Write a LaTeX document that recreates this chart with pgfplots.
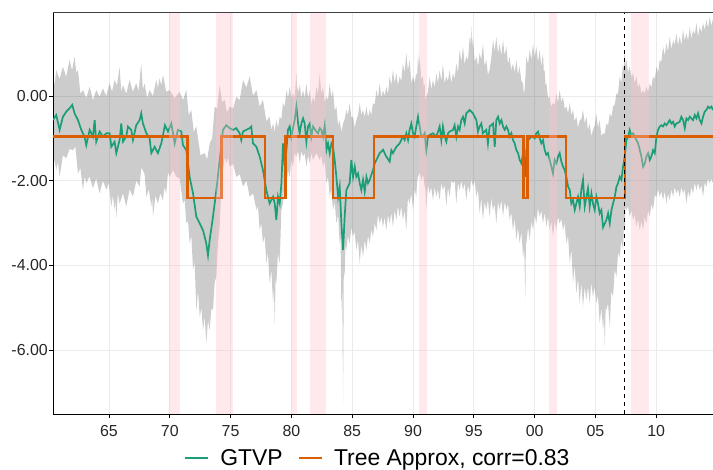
\documentclass[border=0pt]{standalone}
\usepackage{pgfplots}
\pgfplotsset{compat=1.18}
\usepgfplotslibrary{fillbetween}
\usepackage{pgfplotstable}
\usepackage{fontspec}
\setmainfont{Liberation Sans}

\definecolor{gtvp}{HTML}{1B9E77}
\definecolor{tree}{HTML}{D95F02}
\definecolor{recess}{HTML}{FFC0CB}

% GTVP estimate
\pgfplotstableread{
x y
1960.39 -0.57
1960.66 -0.45
1960.94 -0.80
1961.21 -0.49
1961.49 -0.37
1961.76 -0.29
1961.98 -0.21
1962.17 -0.41
1962.45 -0.57
1962.72 -0.80
1962.99 -0.96
1963.13 -1.16
1963.41 -0.80
1963.68 -0.96
1963.82 -0.57
1963.95 -1.08
1964.23 -0.84
1964.50 -0.96
1964.78 -0.88
1965.05 -0.88
1965.19 -1.20
1965.46 -1.08
1965.60 -1.35
1965.87 -1.04
1966.01 -0.65
1966.15 -1.08
1966.42 -0.96
1966.56 -0.72
1966.83 -0.80
1966.97 -1.04
1967.24 -0.69
1967.52 -0.57
1967.65 -0.41
1967.79 -0.65
1968.07 -0.88
1968.34 -1.00
1968.48 -1.35
1968.75 -1.20
1969.02 -1.35
1969.30 -1.12
1969.60 -0.69
1969.85 -0.84
1970.13 -0.65
1970.40 -1.12
1970.67 -0.80
1970.95 -0.84
1971.08 -1.16
1971.36 -1.28
1971.63 -1.91
1971.91 -2.30
1972.18 -2.85
1972.46 -3.01
1972.73 -3.17
1973.00 -3.48
1973.14 -3.76
1973.28 -3.40
1973.55 -2.85
1973.83 -2.22
1974.10 -1.51
1974.37 -0.80
1974.65 -0.69
1974.92 -0.76
1975.20 -0.80
1975.47 -0.76
1975.74 -0.88
1975.88 -1.04
1976.02 -0.84
1976.29 -0.80
1976.57 -0.76
1976.70 -0.72
1976.84 -1.12
1977.12 -1.20
1977.39 -1.43
1977.66 -1.75
1977.94 -2.22
1978.21 -2.54
1978.49 -2.38
1978.63 -2.54
1978.76 -2.93
1978.90 -2.38
1979.04 -2.54
1979.18 -2.06
1979.31 -1.12
1979.45 -1.67
1979.59 -1.28
1979.72 -0.80
1979.86 -0.72
1980.00 -0.96
1980.13 -0.76
1980.27 -0.57
1980.41 -0.25
1980.55 -0.65
1980.68 -0.88
1980.82 -0.65
1980.96 -0.53
1981.09 -0.65
1981.23 -1.08
1981.37 -0.72
1981.51 -0.65
1981.64 -0.96
1981.78 -0.72
1982.05 -0.84
1982.19 -0.88
1982.33 -0.76
1982.46 -0.80
1982.60 -0.96
1982.74 -0.69
1982.88 -1.28
1983.01 -1.12
1983.15 -1.35
1983.29 -1.12
1983.42 -1.20
1983.56 -1.51
1983.70 -1.91
1983.84 -2.38
1983.97 -2.14
1984.11 -3.01
1984.25 -3.64
1984.38 -2.85
1984.52 -2.22
1984.79 -2.06
1984.93 -1.51
1985.07 -1.91
1985.21 -1.67
1985.34 -1.91
1985.48 -1.83
1985.62 -2.06
1985.75 -2.22
1985.89 -1.98
1986.03 -2.26
1986.17 -1.91
1986.30 -2.06
1986.44 -1.98
1986.71 -1.75
1986.85 -1.59
1986.99 -1.51
1987.26 -1.35
1987.54 -1.27
1987.80 -1.43
1988.08 -1.55
1988.22 -1.28
1988.35 -1.35
1988.63 -1.20
1988.90 -1.12
1989.17 -0.96
1989.31 -1.04
1989.45 -0.88
1989.59 -1.04
1989.72 -0.80
1989.86 -0.65
1990.00 -0.88
1990.13 -0.96
1990.27 -0.72
1990.41 -0.49
1990.55 -0.72
1990.68 -0.96
1990.82 -0.96
1990.96 -0.88
1991.09 -1.28
1991.23 -0.96
1991.37 -0.92
1991.64 -0.88
1991.92 -0.96
1992.19 -0.72
1992.33 -1.04
1992.46 -0.72
1992.60 -0.96
1992.74 -1.08
1992.88 -0.88
1993.01 -0.84
1993.29 -0.80
1993.42 -0.69
1993.56 -0.96
1993.70 -0.72
1993.83 -0.80
1993.97 -0.57
1994.11 -0.49
1994.25 -0.65
1994.38 -0.41
1994.52 -0.37
1994.66 -0.33
1994.79 -0.37
1994.93 -0.41
1995.07 -0.49
1995.21 -0.57
1995.34 -0.84
1995.48 -0.72
1995.62 -0.65
1995.75 -0.88
1996.03 -0.80
1996.16 -1.12
1996.30 -0.72
1996.58 -0.65
1996.72 -1.20
1996.85 -0.57
1996.99 -0.49
1997.13 -0.65
1997.27 -0.57
1997.40 -0.72
1997.54 -0.80
1997.68 -0.72
1997.81 -0.80
1997.95 -0.96
1998.09 -0.88
1998.22 -1.04
1998.36 -1.12
1998.50 -1.28
1998.64 -1.35
1998.77 -1.51
1998.91 -1.59
1999.05 -1.35
1999.18 -1.67
1999.24 -1.91
1999.32 -1.28
1999.46 -1.04
1999.60 -1.00
1999.73 -0.96
1999.87 -0.96
2000.01 -1.00
2000.14 -0.88
2000.28 -0.84
2000.42 -1.00
2000.55 -1.12
2000.69 -1.04
2000.83 -1.28
2000.97 -1.39
2001.10 -1.35
2001.24 -1.51
2001.38 -1.67
2001.51 -1.83
2001.65 -1.51
2001.79 -1.59
2001.93 -1.43
2002.06 -1.35
2002.20 -1.55
2002.34 -1.67
2002.47 -1.75
2002.61 -1.91
2002.75 -2.14
2002.89 -2.22
2003.02 -2.54
2003.16 -2.46
2003.30 -2.69
2003.43 -2.54
2003.57 -2.38
2003.71 -2.61
2003.84 -2.22
2003.98 -1.98
2004.12 -2.61
2004.26 -2.38
2004.39 -2.18
2004.53 -2.61
2004.67 -2.30
2004.80 -2.54
2004.94 -2.69
2005.08 -2.38
2005.21 -2.54
2005.35 -2.77
2005.49 -2.69
2005.63 -3.10
2005.77 -3.01
2005.90 -2.93
2006.04 -2.77
2006.18 -3.01
2006.32 -2.69
2006.45 -2.54
2006.59 -2.38
2006.73 -2.14
2006.86 -2.06
2007.00 -1.91
2007.14 -1.98
2007.27 -1.67
2007.41 -1.43
2007.55 -1.04
2007.69 -0.96
2007.82 -0.80
2007.96 -0.92
2008.10 -0.88
2008.23 -0.96
2008.37 -1.04
2008.51 -1.12
2008.65 -1.28
2008.78 -1.43
2008.92 -1.67
2009.06 -1.59
2009.19 -1.43
2009.33 -1.35
2009.47 -1.51
2009.60 -1.43
2009.74 -1.28
2009.88 -1.35
2010.02 -0.96
2010.15 -0.80
2010.29 -0.72
2010.43 -0.69
2010.56 -0.72
2010.70 -0.65
2010.84 -0.69
2011.11 -0.57
2011.25 -0.65
2011.39 -0.61
2011.52 -0.72
2011.66 -0.65
2011.93 -0.61
2012.07 -0.49
2012.21 -0.57
2012.35 -0.76
2012.48 -0.53
2012.62 -0.57
2012.76 -0.49
2012.89 -0.53
2013.03 -0.57
2013.17 -0.45
2013.31 -0.53
2013.44 -0.41
2013.58 -0.57
2013.72 -0.65
2013.85 -0.49
2013.99 -0.37
2014.13 -0.33
2014.26 -0.25
2014.40 -0.29
2014.54 -0.25
2014.67 -0.33
}\gtvptab

% upper edge of the grey band
\pgfplotstableread{
x y
1960.39 0.46
1960.52 0.25
1960.66 0.61
1960.93 0.40
1961.21 0.69
1961.48 0.45
1961.76 0.85
1961.96 0.60
1962.17 0.93
1962.31 0.55
1962.45 0.61
1962.65 0.05
1962.86 0.14
1963.13 -0.05
1963.41 0.22
1963.68 -0.10
1963.95 0.14
1964.22 -0.02
1964.50 0.18
1964.77 0.00
1965.05 0.30
1965.25 0.10
1965.46 0.38
1965.66 0.25
1965.87 0.69
1966.01 0.10
1966.15 0.26
1966.42 0.05
1966.69 0.38
1966.96 0.10
1967.24 0.30
1967.44 0.12
1967.65 0.77
1967.79 0.15
1967.93 0.30
1968.13 -0.05
1968.34 0.14
1968.61 0.00
1968.89 0.38
1969.02 0.20
1969.16 0.42
1969.30 0.25
1969.44 0.50
1969.71 0.10
1969.99 0.14
1970.40 -0.05
1970.81 0.10
1971.08 -0.10
1971.36 0.14
1971.56 -0.45
1971.77 -0.33
1971.97 -0.85
1972.18 -0.72
1972.52 -1.40
1972.87 -1.35
1973.07 -1.50
1973.28 -1.12
1973.48 -1.00
1973.69 -0.25
1973.89 -0.30
1974.10 0.26
1974.30 -0.15
1974.51 -0.09
1974.71 -0.40
1974.92 -0.25
1975.20 -0.30
1975.47 -0.02
1975.75 -0.10
1976.02 0.38
1976.30 0.20
1976.57 0.46
1976.85 0.00
1977.12 0.14
1977.39 -0.25
1977.66 -0.09
1977.94 -0.60
1978.21 -0.49
1978.35 -0.80
1978.49 -0.65
1978.62 -0.85
1978.76 -0.57
1978.90 -0.75
1979.04 -0.49
1979.17 -0.55
1979.31 -0.17
1979.45 -0.25
1979.59 0.14
1979.72 -0.05
1979.86 0.22
1980.00 -0.05
1980.13 0.06
1980.27 -0.05
1980.41 0.54
1980.48 0.10
1980.55 0.22
1980.61 0.05
1980.68 0.30
1980.82 -0.05
1980.96 0.14
1981.09 -0.05
1981.23 0.30
1981.37 -0.05
1981.51 0.14
1981.64 -0.20
1981.78 -0.02
1981.91 -0.15
1982.05 0.22
1982.19 0.05
1982.33 0.54
1982.46 0.05
1982.60 0.22
1982.74 -0.15
1982.88 -0.02
1983.01 -0.10
1983.15 0.30
1983.28 -0.05
1983.42 0.14
1983.56 -0.35
1983.70 -0.25
1983.84 -0.70
1983.97 -0.57
1984.11 -0.85
1984.25 -0.65
1984.38 -0.55
1984.52 -0.33
1984.65 -0.45
1984.79 -0.17
1984.93 -0.50
1985.07 -0.49
1985.20 -0.75
1985.34 -0.57
1985.48 -0.45
1985.62 -0.17
1985.75 -0.45
1985.89 -0.33
1986.03 -0.50
1986.17 -0.25
1986.30 -0.50
1986.44 -0.33
1986.57 -0.45
1986.71 -0.17
1986.85 -0.20
1986.99 0.14
1987.12 -0.05
1987.26 0.30
1987.40 -0.05
1987.53 0.14
1987.66 0.00
1987.80 0.22
1987.94 0.05
1988.08 0.46
1988.21 0.25
1988.35 0.61
1988.49 0.30
1988.63 0.54
1988.76 0.25
1988.90 0.46
1989.03 0.35
1989.17 0.77
1989.31 0.55
1989.45 1.01
1989.58 0.60
1989.72 0.85
1989.86 0.30
1990.00 0.46
1990.13 0.30
1990.27 0.54
1990.34 0.45
1990.41 1.01
1990.48 0.70
1990.55 0.93
1990.68 0.40
1990.82 0.46
1990.89 0.20
1990.96 0.30
1991.02 -0.10
1991.09 -0.02
1991.23 0.10
1991.37 0.46
1991.50 0.15
1991.64 0.38
1991.78 0.20
1991.92 0.54
1992.05 0.30
1992.19 0.61
1992.33 0.35
1992.46 0.77
1992.60 0.30
1992.74 0.46
1992.87 0.35
1993.01 0.61
1993.15 0.30
1993.29 0.54
1993.42 0.40
1993.56 0.77
1993.70 0.55
1993.83 1.09
1993.97 0.80
1994.11 1.17
1994.24 0.75
1994.38 0.93
1994.52 0.85
1994.66 1.40
1994.72 1.20
1994.79 1.64
1994.86 1.15
1994.93 1.40
1995.07 0.80
1995.21 0.93
1995.34 0.70
1995.48 1.01
1995.61 0.85
1995.75 1.24
1995.89 0.70
1996.03 0.85
1996.16 0.50
1996.30 0.61
1996.44 0.90
1996.58 1.32
1996.71 1.05
1996.85 1.40
1996.99 1.00
1997.13 1.24
1997.26 0.95
1997.40 1.32
1997.54 0.95
1997.68 1.17
1997.81 0.75
1997.95 0.93
1998.08 0.60
1998.22 0.77
1998.36 0.55
1998.50 0.85
1998.63 0.50
1998.77 0.69
1998.91 0.35
1999.05 0.30
1999.11 0.05
1999.18 0.14
1999.25 0.50
1999.32 0.93
1999.46 0.75
1999.60 1.09
1999.73 0.85
1999.87 1.24
2000.00 0.90
2000.14 1.17
2000.28 0.80
2000.42 1.09
2000.55 0.70
2000.69 1.01
2000.76 0.55
2000.83 0.61
2000.90 0.25
2000.97 0.30
2001.10 -0.05
2001.24 -0.02
2001.37 -0.25
2001.51 -0.17
2001.65 -0.20
2001.79 0.06
2001.92 -0.15
2002.06 0.14
2002.20 -0.15
2002.34 -0.02
2002.47 -0.30
2002.61 -0.25
2002.75 -0.40
2002.89 -0.17
2003.02 -0.45
2003.16 -0.33
2003.29 -0.60
2003.43 -0.49
2003.57 -0.75
2003.71 -0.57
2003.84 -0.55
2003.98 -0.33
2004.12 -0.65
2004.26 -0.49
2004.39 -0.80
2004.53 -0.65
2004.66 -0.95
2004.80 -0.80
2004.94 -0.70
2005.08 -0.41
2005.21 -0.75
2005.35 -0.57
2005.49 -0.95
2005.63 -0.88
2005.76 -0.90
2005.90 -0.65
2006.04 -0.70
2006.18 -0.41
2006.31 -0.50
2006.45 -0.25
2006.59 -0.20
2006.73 0.06
2006.86 0.05
2007.00 0.46
2007.13 0.30
2007.27 0.77
2007.34 0.60
2007.41 1.09
2007.48 0.70
2007.55 0.85
2007.68 0.55
2007.82 0.69
2007.96 0.45
2008.10 0.54
2008.23 0.30
2008.37 0.46
2008.51 0.20
2008.65 0.30
2008.78 0.05
2008.92 0.14
2009.05 0.05
2009.19 0.22
2009.33 0.10
2009.47 0.30
2009.60 0.20
2009.74 0.46
2009.88 0.40
2010.02 0.69
2010.15 0.55
2010.29 0.85
2010.42 0.80
2010.56 1.17
2010.70 0.95
2010.84 1.24
2010.97 1.05
2011.11 1.40
2011.25 1.10
2011.39 1.32
2011.52 1.20
2011.66 1.48
2011.79 1.20
2011.93 1.40
2012.07 1.20
2012.21 1.56
2012.34 1.30
2012.48 1.48
2012.62 1.30
2012.76 1.64
2012.89 1.35
2013.03 1.56
2013.17 1.45
2013.31 1.72
2013.44 1.40
2013.58 1.64
2013.71 1.50
2013.85 1.72
2013.99 1.55
2014.13 1.80
2014.26 1.60
2014.40 1.87
2014.53 1.65
2014.67 1.83
}\uptab

% lower edge of the grey band
\pgfplotstableread{
x y
1960.39 -1.67
1960.52 -1.50
1960.66 -1.75
1960.80 -1.55
1960.94 -1.91
1961.21 -1.40
1961.49 -1.47
1961.76 -1.25
1962.03 -1.28
1962.24 -1.20
1962.45 -1.83
1962.65 -1.70
1962.86 -2.22
1963.00 -1.90
1963.13 -2.06
1963.40 -1.90
1963.68 -2.18
1963.95 -1.95
1964.23 -2.30
1964.50 -2.00
1964.78 -2.22
1964.98 -2.05
1965.19 -2.61
1965.32 -2.35
1965.46 -2.69
1965.53 -2.45
1965.60 -2.89
1965.73 -2.30
1965.87 -2.54
1966.15 -2.30
1966.42 -2.61
1966.70 -2.20
1966.97 -2.38
1967.24 -2.00
1967.52 -2.14
1967.65 -1.70
1967.79 -1.75
1967.93 -1.85
1968.07 -2.38
1968.27 -2.20
1968.48 -2.61
1968.55 -2.40
1968.62 -2.85
1968.82 -2.35
1969.02 -2.54
1969.22 -2.30
1969.43 -2.46
1969.57 -2.15
1969.71 -2.30
1969.85 -1.80
1969.99 -1.91
1970.27 -1.75
1970.54 -1.91
1970.81 -1.95
1971.08 -2.54
1971.22 -2.45
1971.36 -3.01
1971.50 -2.95
1971.63 -3.48
1971.77 -3.30
1971.91 -4.11
1972.04 -3.90
1972.18 -5.06
1972.32 -4.60
1972.46 -5.21
1972.60 -5.00
1972.73 -5.53
1972.87 -5.20
1973.00 -5.84
1973.14 -5.30
1973.28 -5.53
1973.42 -5.00
1973.55 -5.06
1973.69 -4.40
1973.83 -4.27
1973.96 -3.50
1974.10 -3.09
1974.23 -2.20
1974.37 -1.75
1974.51 -1.45
1974.65 -1.59
1974.78 -1.45
1974.92 -1.67
1975.20 -1.60
1975.47 -1.91
1975.75 -1.85
1976.02 -2.14
1976.30 -2.00
1976.57 -2.38
1976.85 -2.30
1977.12 -2.69
1977.25 -2.60
1977.39 -3.17
1977.52 -3.00
1977.66 -3.48
1977.80 -3.30
1977.94 -3.95
1978.07 -3.70
1978.21 -4.43
1978.35 -4.10
1978.49 -4.90
1978.56 -4.50
1978.63 -5.37
1978.70 -4.30
1978.76 -4.43
1978.90 -3.70
1979.04 -3.95
1979.17 -2.70
1979.31 -2.54
1979.45 -1.90
1979.59 -2.06
1979.72 -1.75
1979.86 -1.91
1980.00 -1.50
1980.13 -1.67
1980.27 -1.35
1980.41 -1.43
1980.55 -1.30
1980.68 -1.59
1980.82 -1.30
1980.96 -1.43
1981.09 -1.35
1981.23 -1.67
1981.37 -1.40
1981.51 -1.59
1981.64 -1.35
1981.78 -1.51
1982.05 -1.35
1982.33 -1.51
1982.46 -1.40
1982.60 -1.67
1982.74 -1.55
1982.88 -2.06
1983.01 -1.90
1983.15 -2.38
1983.28 -2.20
1983.42 -2.69
1983.56 -2.50
1983.70 -3.01
1983.84 -2.80
1983.97 -3.48
1984.04 -3.30
1984.11 -5.06
1984.18 -4.50
1984.25 -7.26
1984.31 -4.00
1984.38 -4.27
1984.45 -3.50
1984.52 -3.64
1984.65 -3.30
1984.79 -3.48
1984.93 -3.10
1985.07 -3.32
1985.20 -3.20
1985.34 -3.64
1985.48 -3.40
1985.62 -3.95
1985.75 -3.50
1985.89 -3.80
1986.03 -3.40
1986.17 -3.64
1986.30 -3.30
1986.44 -3.48
1986.57 -3.15
1986.71 -3.32
1986.85 -3.00
1986.99 -3.17
1987.12 -2.80
1987.26 -3.01
1987.40 -2.85
1987.53 -3.10
1987.66 -2.85
1987.80 -3.17
1987.94 -2.80
1988.08 -3.01
1988.21 -2.75
1988.35 -3.09
1988.49 -2.70
1988.63 -2.93
1988.76 -2.60
1988.90 -2.85
1989.03 -2.60
1989.17 -2.93
1989.31 -2.70
1989.45 -3.17
1989.58 -2.40
1989.72 -2.54
1989.86 -2.30
1990.00 -2.69
1990.13 -2.20
1990.27 -2.38
1990.34 -2.00
1990.41 -1.91
1990.55 -1.80
1990.68 -1.98
1990.82 -1.85
1990.96 -2.14
1991.02 -2.20
1991.09 -2.69
1991.23 -2.10
1991.37 -2.30
1991.50 -2.15
1991.64 -2.46
1991.78 -2.15
1991.92 -2.38
1992.05 -2.20
1992.19 -2.46
1992.33 -2.05
1992.46 -2.22
1992.60 -2.10
1992.74 -2.61
1992.87 -2.15
1993.01 -2.38
1993.15 -2.00
1993.29 -2.06
1993.42 -2.00
1993.56 -2.54
1993.70 -2.05
1993.83 -2.22
1993.97 -2.00
1994.11 -2.22
1994.24 -2.05
1994.38 -2.46
1994.52 -2.10
1994.66 -2.30
1994.79 -1.95
1994.93 -2.14
1995.07 -2.00
1995.21 -2.38
1995.34 -2.20
1995.48 -2.77
1995.61 -2.40
1995.75 -2.93
1995.89 -2.50
1996.03 -2.69
1996.16 -2.45
1996.30 -2.85
1996.44 -2.40
1996.58 -2.70
1996.71 -2.55
1996.85 -3.01
1996.99 -2.50
1997.13 -2.69
1997.26 -2.45
1997.40 -2.85
1997.54 -2.50
1997.68 -2.69
1997.81 -2.55
1997.95 -2.93
1998.08 -2.75
1998.22 -3.17
1998.36 -2.90
1998.50 -3.40
1998.63 -3.10
1998.77 -3.48
1998.91 -3.20
1999.05 -3.80
1999.15 -3.60
1999.24 -4.82
1999.28 -3.50
1999.32 -3.48
1999.46 -3.10
1999.60 -3.40
1999.73 -2.95
1999.87 -3.17
2000.00 -2.80
2000.14 -3.01
2000.28 -2.65
2000.42 -2.85
2000.55 -2.70
2000.69 -3.01
2000.83 -2.75
2000.97 -3.09
2001.10 -2.85
2001.24 -3.17
2001.37 -2.95
2001.51 -3.32
2001.65 -2.95
2001.79 -3.17
2001.92 -2.85
2002.06 -3.01
2002.20 -2.90
2002.34 -3.17
2002.47 -3.00
2002.61 -3.48
2002.75 -3.30
2002.89 -3.95
2003.02 -3.60
2003.16 -4.43
2003.29 -4.00
2003.43 -4.66
2003.57 -4.30
2003.71 -4.90
2003.84 -4.40
2003.98 -4.98
2004.12 -4.50
2004.26 -4.82
2004.39 -4.50
2004.53 -4.90
2004.66 -4.40
2004.80 -4.74
2004.94 -4.50
2005.08 -4.90
2005.21 -4.70
2005.35 -5.37
2005.49 -5.00
2005.63 -5.53
2005.70 -5.20
2005.77 -5.90
2005.84 -5.00
2005.90 -5.06
2006.04 -4.90
2006.18 -5.45
2006.31 -4.60
2006.45 -4.74
2006.59 -4.10
2006.73 -4.27
2006.86 -3.70
2007.00 -3.80
2007.13 -3.40
2007.27 -3.64
2007.34 -3.10
2007.41 -3.09
2007.48 -2.60
2007.55 -2.69
2007.68 -2.60
2007.82 -2.85
2007.96 -2.70
2008.10 -2.93
2008.23 -2.80
2008.37 -3.09
2008.51 -2.90
2008.65 -3.17
2008.78 -2.95
2008.92 -3.17
2009.05 -2.85
2009.19 -3.01
2009.33 -2.70
2009.47 -2.85
2009.60 -2.55
2009.74 -2.69
2009.88 -2.35
2010.02 -2.38
2010.15 -2.20
2010.29 -2.38
2010.42 -2.25
2010.56 -2.46
2010.70 -2.25
2010.84 -2.54
2010.97 -2.30
2011.11 -2.46
2011.25 -2.20
2011.39 -2.38
2011.52 -2.15
2011.66 -2.30
2011.79 -2.20
2011.93 -2.38
2012.07 -2.15
2012.21 -2.30
2012.34 -2.20
2012.48 -2.54
2012.62 -2.25
2012.76 -2.38
2012.89 -2.15
2013.03 -2.30
2013.17 -2.05
2013.31 -2.22
2013.44 -2.05
2013.58 -2.22
2013.71 -2.10
2013.85 -2.38
2013.99 -2.05
2014.13 -2.14
2014.26 -1.95
2014.40 -2.06
2014.53 -1.95
2014.67 -2.06
}\lotab

\begin{document}
\begin{tikzpicture}
\begin{axis}[
    scale only axis,
    width=660bp, height=402bp,
    xmin=1960.395, xmax=2014.67,
    ymin=-7.51, ymax=1.983,
    axis x line*=bottom, axis y line*=left,
    axis line style={black, line width=0.9bp},
    xtick={1965,1970,...,2010},
    xticklabels={65,70,75,80,85,90,95,00,05,10},
    ytick={-6,-4,-2,0},
    yticklabels={-6.00,-4.00,-2.00,0.00},
    tick align=outside,
    major tick length=4bp,
    tick style={black, line width=0.9bp},
    grid=major,
    grid style={color=black!8, line width=0.9bp},
    ticklabel style={font=\fontsize{16}{18}\selectfont, text=black!85},
    yticklabel style={inner sep=1bp},
    xticklabel style={inner sep=1bp, yshift=-6bp},
    legend columns=2,
    legend style={at={(0.4925,-0.11)}, anchor=center, draw=none, fill=none,
        font=\fontsize{23}{26}\selectfont,
        /tikz/every odd column/.append style={column sep=9bp},
        /tikz/every even column/.append style={column sep=13bp}},
    legend image code/.code={\draw[#1] (0bp,0bp) -- (23bp,0bp);},
]
\addplot[name path=up, draw=none, forget plot] table {\uptab};
\addplot[name path=lo, draw=none, forget plot] table {\lotab};
\addplot[fill=black, fill opacity=0.2, draw=none, forget plot] fill between[of=up and lo];

\addplot[gtvp, line width=1.7bp] table {\gtvptab};
\addlegendentry{GTVP}
\addplot[tree, line width=2.4bp] coordinates {
    (1960.395,-0.96) (1971.44,-0.96) (1971.44,-2.41) (1974.24,-2.41)
    (1974.24,-0.96) (1977.82,-0.96) (1977.82,-2.41) (1979.50,-2.41)
    (1979.50,-0.96) (1983.42,-0.96) (1983.42,-2.41) (1986.77,-2.41)
    (1986.77,-0.96) (1999.07,-0.96) (1999.07,-2.41) (1999.40,-2.41)
    (1999.40,-0.96) (2002.56,-0.96) (2002.56,-2.41) (2007.44,-2.41)
    (2007.44,-0.96) (2014.67,-0.96)};
\addlegendentry{Tree Approx, corr=0.83}

% recession shading
\addplot[draw=none, fill=recess, fill opacity=0.35, forget plot] coordinates {(1969.917,-7.51) (1969.917,1.983) (1970.833,1.983) (1970.833,-7.51)} -- cycle;
\addplot[draw=none, fill=recess, fill opacity=0.35, forget plot] coordinates {(1973.833,-7.51) (1973.833,1.983) (1975.167,1.983) (1975.167,-7.51)} -- cycle;
\addplot[draw=none, fill=recess, fill opacity=0.35, forget plot] coordinates {(1980.000,-7.51) (1980.000,1.983) (1980.500,1.983) (1980.500,-7.51)} -- cycle;
\addplot[draw=none, fill=recess, fill opacity=0.35, forget plot] coordinates {(1981.500,-7.51) (1981.500,1.983) (1982.833,1.983) (1982.833,-7.51)} -- cycle;
\addplot[draw=none, fill=recess, fill opacity=0.35, forget plot] coordinates {(1990.500,-7.51) (1990.500,1.983) (1991.167,1.983) (1991.167,-7.51)} -- cycle;
\addplot[draw=none, fill=recess, fill opacity=0.35, forget plot] coordinates {(2001.167,-7.51) (2001.167,1.983) (2001.833,1.983) (2001.833,-7.51)} -- cycle;
\addplot[draw=none, fill=recess, fill opacity=0.35, forget plot] coordinates {(2007.917,-7.51) (2007.917,1.983) (2009.417,1.983) (2009.417,-7.51)} -- cycle;

\addplot[black, dashed, line width=1bp, dash pattern=on 4bp off 4bp, forget plot] coordinates {(2007.40,-7.51) (2007.40,1.983)};

\coordinate (bl) at (rel axis cs:0,0);
\coordinate (tl) at (rel axis cs:0,1);
\coordinate (tr) at (rel axis cs:1,1);
\end{axis}
\draw[black!75, line width=0.9bp] (tl) -- (tr);
\pgfresetboundingbox
\path[use as bounding box] ([shift={(-53bp,-55bp)}]bl) rectangle ([shift={(0bp,12bp)}]tr);
\end{tikzpicture}
\end{document}
